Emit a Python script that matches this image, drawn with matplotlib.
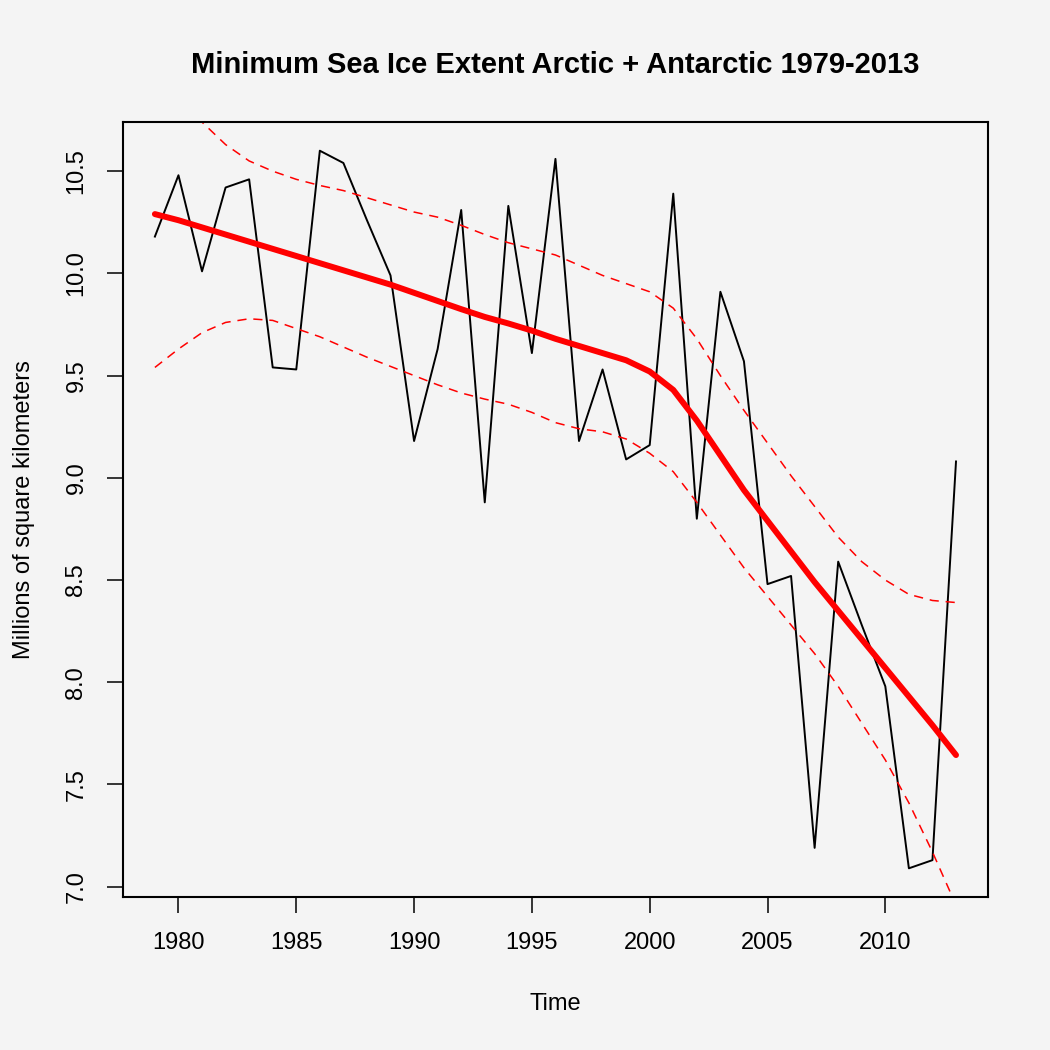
import matplotlib
matplotlib.use("Agg")
import matplotlib.pyplot as plt
import numpy as np

plt.rcParams['font.family'] = ['Liberation Sans', 'DejaVu Sans']

years = np.arange(1979, 2014)

# minimum sea ice extent, millions of km^2
extent = [10.18, 10.48, 10.01, 10.42, 10.46, 9.54, 9.53, 10.60, 10.54, 10.26,
          9.99, 9.18, 9.63, 10.31, 8.88, 10.33, 9.61, 10.56, 9.18, 9.53,
          9.09, 9.16, 10.39, 8.80, 9.91, 9.57, 8.48, 8.52, 7.19, 8.59,
          8.28, 7.98, 7.09, 7.13, 9.08]

# smoothed fit
fit = [10.29, 10.26, 10.225, 10.19, 10.155, 10.12, 10.085, 10.05, 10.015, 9.98,
       9.945, 9.905, 9.865, 9.825, 9.787, 9.755, 9.72, 9.68, 9.645, 9.61,
       9.575, 9.52, 9.43, 9.28, 9.11, 8.94, 8.79, 8.64, 8.49, 8.35,
       8.21, 8.07, 7.93, 7.79, 7.644]

# confidence band
upper = [11.0, 10.86, 10.74, 10.63, 10.55, 10.50, 10.46, 10.43, 10.405, 10.37,
         10.335, 10.30, 10.275, 10.235, 10.19, 10.15, 10.12, 10.09, 10.04, 9.99,
         9.95, 9.91, 9.83, 9.68, 9.50, 9.33, 9.17, 9.01, 8.86, 8.71,
         8.59, 8.50, 8.43, 8.40, 8.39]
lower = [9.54, 9.63, 9.71, 9.76, 9.778, 9.77, 9.73, 9.69, 9.64, 9.59,
         9.545, 9.50, 9.455, 9.415, 9.385, 9.36, 9.32, 9.27, 9.24, 9.225,
         9.19, 9.12, 9.03, 8.88, 8.72, 8.56, 8.42, 8.28, 8.14, 7.98,
         7.80, 7.62, 7.41, 7.17, 6.91]

bg = '#f4f4f4'
fig = plt.figure(figsize=(10.5, 10.5), dpi=100, facecolor=bg)
ax = fig.add_axes([0.117, 0.1457, 0.824, 0.7381], facecolor=bg)

ax.plot(years, extent, color='black', lw=1.4)
ax.plot(years, fit, color='#ff0000', lw=4.3, solid_capstyle='round')
ax.plot(years, upper, color='#ff0000', lw=1.1, linestyle=(0, (6, 4.5)))
ax.plot(years, lower, color='#ff0000', lw=1.1, linestyle=(0, (6, 4.5)))

# R-style 4% padding
xr = years[-1] - years[0]
ax.set_xlim(years[0] - 0.04 * xr, years[-1] + 0.04 * xr)
ymin, ymax = min(extent), max(extent)
yr = ymax - ymin
ax.set_ylim(ymin - 0.04 * yr, ymax + 0.04 * yr)

ax.set_xticks([1980, 1985, 1990, 1995, 2000, 2005, 2010])
ax.set_yticks([7.0, 7.5, 8.0, 8.5, 9.0, 9.5, 10.0, 10.5])
ax.set_yticklabels(['7.0', '7.5', '8.0', '8.5', '9.0', '9.5', '10.0', '10.5'],
                   rotation=90, va='center')
ax.tick_params(direction='out', length=11.5, width=1.1, labelsize=17, pad=14)

for s in ax.spines.values():
    s.set_linewidth(1.5)

ax.set_title('Minimum Sea Ice Extent Arctic + Antarctic 1979-2013',
             fontsize=21, fontweight='bold', pad=35)
ax.set_xlabel('Time', fontsize=17, labelpad=28)
ax.set_ylabel('Millions of square kilometers', fontsize=17, labelpad=22)

fig.savefig('out.png', dpi=100, facecolor=bg)
